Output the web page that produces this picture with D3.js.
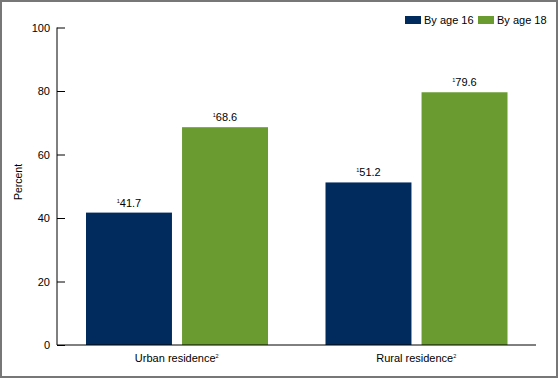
<!DOCTYPE html>
<html><head><meta charset="utf-8">
<script src="https://cdn.jsdelivr.net/npm/d3@7"></script>
<style>body{margin:0;background:#fff}svg{display:block;font-family:"Liberation Sans",Arial,sans-serif}</style>
</head><body><svg id="c" width="560" height="379"></svg>
<script>
const categories = ["Urban residence", "Rural residence"];
const catSup = ["2", "2"];
const seriesNames = ["By age 16", "By age 18"];
const age16 = [41.7, 51.2];
const age18 = [68.6, 79.6];
const valueSup = "1";
const yTicks = [0, 20, 40, 60, 80, 100];
const colors = ["#002b5c", "#6a9b31"];

const svg = d3.select("#c");
svg.append("rect").attr("x", 1).attr("y", 1).attr("width", 556).attr("height", 376)
  .attr("fill", "none").attr("stroke", "#777").attr("stroke-width", 2);

const mLeft = 57, mRight = 536, mTop = 27.5, mBottom = 345;
const y = d3.scaleLinear().domain([0, 100]).range([mBottom, mTop]);
const x0 = d3.scaleBand().domain(categories).range([mLeft, mRight]).paddingInner(0).paddingOuter(0);
const x1 = d3.scaleBand().domain(seriesNames).range([29, 211]).paddingInner(0.105);

const series = [age16, age18];
const data = [];
categories.forEach((c, i) => seriesNames.forEach((s, j) => data.push({c, s, j, v: series[j][i]})));

// bars
svg.append("g").selectAll("rect").data(data).join("rect")
  .attr("x", d => x0(d.c) + x1(d.s))
  .attr("y", d => y(d.v))
  .attr("width", x1.bandwidth())
  .attr("height", d => mBottom - y(d.v))
  .attr("fill", d => colors[d.j]);

// value labels
const lab = svg.append("g").selectAll("text").data(data).join("text")
  .attr("x", d => x0(d.c) + x1(d.s) + x1.bandwidth() / 2)
  .attr("y", d => y(d.v) - 6)
  .attr("text-anchor", "middle")
  .attr("font-size", 11).attr("fill", "#000");
lab.append("tspan").attr("font-size", 5.5).attr("dy", -4).text(valueSup);
lab.append("tspan").attr("dy", 4).text(d => d.v.toFixed(1));

// y axis
const ya = svg.append("g").attr("transform", `translate(${mLeft},0)`)
  .call(d3.axisRight(y).tickValues(yTicks).tickSize(8).tickFormat(d3.format("d")));
ya.select(".domain").attr("stroke", "#000").attr("d", `M0,${mTop}V${mBottom}`);
ya.selectAll(".tick line").attr("stroke", "#000");
ya.selectAll(".tick text").attr("x", -7).attr("text-anchor", "end")
  .attr("font-size", 11).attr("font-family", "Liberation Sans, Arial, sans-serif").attr("fill", "#000");

// x axis
svg.append("line").attr("x1", mLeft).attr("x2", mRight).attr("y1", mBottom).attr("y2", mBottom)
  .attr("stroke", "#000").attr("stroke-width", 1);
const xl = svg.append("g").selectAll("text").data(categories).join("text")
  .attr("x", d => x0(d) + x0.bandwidth() / 2).attr("y", 362)
  .attr("text-anchor", "middle").attr("font-size", 11).attr("fill", "#000");
xl.append("tspan").text(d => d);
xl.append("tspan").attr("font-size", 5.5).attr("dy", -4).text((d, i) => catSup[i]);

// y title
svg.append("text").attr("transform", "translate(22,182) rotate(-90)")
  .attr("text-anchor", "middle").attr("font-size", 10.5).attr("fill", "#000").text("Percent");

// legend
const legX = [405, 478];
const lg = svg.append("g").selectAll("g").data(seriesNames).join("g")
  .attr("transform", (d, i) => `translate(${legX[i]},16)`);
lg.append("rect").attr("width", 16).attr("height", 8).attr("fill", (d, i) => colors[i]);
lg.append("text").attr("x", 19).attr("y", 8).attr("font-size", 11).attr("fill", "#000").text(d => d);
</script></body></html>
